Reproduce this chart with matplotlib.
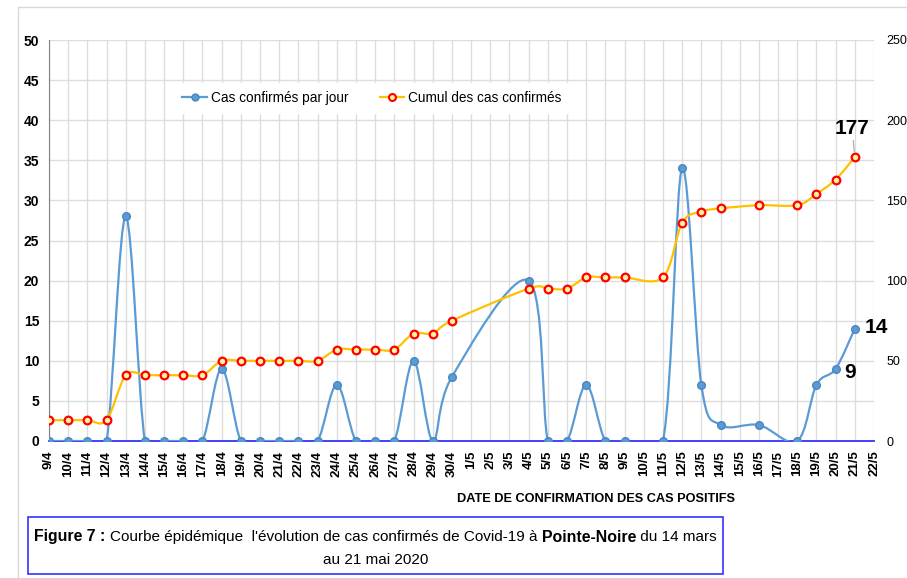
import numpy as np
import matplotlib
matplotlib.use("Agg")
import matplotlib.pyplot as plt
from matplotlib.path import Path
from matplotlib.patches import PathPatch, Rectangle
from matplotlib import font_manager

# polices : Arial Narrow -> Liberation Sans Narrow si dispo
noms = {f.name for f in font_manager.fontManager.ttflist}
narrow = 'Liberation Sans Narrow' if 'Liberation Sans Narrow' in noms else 'Liberation Sans'
plt.rcParams['font.family'] = [narrow, 'DejaVu Sans']

#------------------------------------------------
# donnees
dates = ['9/4', '10/4', '11/4', '12/4', '13/4', '14/4', '15/4', '16/4', '17/4', '18/4',
         '19/4', '20/4', '21/4', '22/4', '23/4', '24/4', '25/4', '26/4', '27/4', '28/4',
         '29/4', '30/4', '1/5', '2/5', '3/5', '4/5', '5/5', '6/5', '7/5', '8/5',
         '9/5', '10/5', '11/5', '12/5', '13/5', '14/5', '15/5', '16/5', '17/5', '18/5',
         '19/5', '20/5', '21/5', '22/5']
# jours avec une valeur (les autres n'ont pas de point)
jours = ['9/4', '10/4', '11/4', '12/4', '13/4', '14/4', '15/4', '16/4', '17/4', '18/4',
         '19/4', '20/4', '21/4', '22/4', '23/4', '24/4', '25/4', '26/4', '27/4', '28/4',
         '29/4', '30/4', '4/5', '5/5', '6/5', '7/5', '8/5', '9/5', '11/5', '12/5',
         '13/5', '14/5', '16/5', '18/5', '19/5', '20/5', '21/5']
cas_jour = [0, 0, 0, 0, 28, 0, 0, 0, 0, 9,
            0, 0, 0, 0, 0, 7, 0, 0, 0, 10,
            0, 8, 20, 0, 0, 7, 0, 0, 0, 34,
            7, 2, 2, 0, 7, 9, 14]
cumul = [13, 13, 13, 13, 41, 41, 41, 41, 41, 50,
         50, 50, 50, 50, 50, 57, 57, 57, 57, 67,
         67, 75, 95, 95, 95, 102, 102, 102, 102, 136,
         143, 145, 147, 147, 154, 163, 177]

titre_x = "DATE DE CONFIRMATION DES CAS POSITIFS"
legende = ["Cas confirmés par jour", "Cumul des cas confirmés"]

#------------------------------------------------
def courbe_lisse(x, y):
    # lissage facon Excel (bezier type Catmull-Rom)
    p = np.column_stack([x, y]).astype(float)
    n = len(p)
    verts = [p[0]]
    codes = [Path.MOVETO]
    for i in range(n - 1):
        p0 = p[i - 1] if i > 0 else p[i]
        p3 = p[i + 2] if i + 2 < n else p[i + 1]
        c1 = p[i] + (p[i + 1] - p0) / 6.0
        c2 = p[i + 1] - (p3 - p[i]) / 6.0
        verts += [c1, c2, p[i + 1]]
        codes += [Path.CURVE4] * 3
    return Path(verts, codes)

W, H = 907, 578
fig = plt.figure(figsize=(W / 100, H / 100), dpi=100)
fig.patches.append(Rectangle((18 / W, -0.1), 1.2, 1 - 7 / H + 0.1, transform=fig.transFigure,
                             fill=False, edgecolor='#d9d9d9', lw=1))

ax = fig.add_axes([49 / W, 1 - 441 / H, (874 - 49) / W, (441 - 40) / H])
ax2 = ax.twinx()

xj = [dates.index(d) for d in jours]

bleu = '#5b9bd5'
ax.add_patch(PathPatch(courbe_lisse(xj, cas_jour), fill=False, edgecolor=bleu, lw=1.6, zorder=3))
ax.plot(xj, cas_jour, 'o', color=bleu, mec='#4a86c0', ms=5.5, zorder=4)
ax.plot([], [], '-o', color=bleu, mec='#4a86c0', ms=5, lw=1.6, label=legende[0])

ax2.add_patch(PathPatch(courbe_lisse(xj, cumul), fill=False, edgecolor='#ffc000', lw=1.6, zorder=3))
ax2.plot(xj, cumul, 'o', mfc='#fff3a0', mec='#ff0000', mew=1.6, ms=5.5, zorder=4)

ax.set_xlim(0, len(dates) - 1)
ax.set_ylim(0, 50)
ax2.set_ylim(0, 250)
ax.set_xticks(range(len(dates)))
ax.set_xticklabels(dates, rotation=90, fontsize=9.5, fontweight='bold')
ax.set_yticks(range(0, 51, 5))
ax.set_yticklabels([str(v) for v in range(0, 51, 5)], fontsize=10, fontweight='bold')
ax2.set_yticks(range(0, 251, 50))
ax2.set_yticklabels([str(v) for v in range(0, 251, 50)], fontsize=9)
ax.tick_params(length=0, pad=7)
ax2.tick_params(length=0, pad=9)
ax.grid(True, color='#dddddd', lw=1)
ax.set_axisbelow(True)
for s in ['top', 'right']:
    ax.spines[s].set_visible(False)
for s in ax2.spines.values():
    s.set_visible(False)
ax.spines['left'].set_color('#808080')
ax.spines['bottom'].set_color('#3333ff')
ax.spines['bottom'].set_linewidth(1.3)

# legende
h1, l1 = ax.get_legend_handles_labels()
h2, = ax2.plot([], [], '-o', color='#ffc000', mfc='#fff3a0', mec='#ff0000', mew=1.5, ms=5, lw=1.6)
leg = ax2.legend(h1 + [h2], legende, loc='center', bbox_to_anchor=(372 / W, 1 - 98 / H),
                 bbox_transform=fig.transFigure, ncol=2, frameon=True, fancybox=False,
                 edgecolor='white', facecolor='white', framealpha=1, fontsize=9.8,
                 handlelength=1.8, handletextpad=0.3, columnspacing=2.3, borderpad=0.6)

# etiquettes de valeurs
i_fin = len(jours) - 1
ax2.annotate(str(cumul[i_fin]), xy=(xj[i_fin], cumul[i_fin]), xytext=(-2, 14),
             textcoords='offset points', ha='center', va='bottom', fontsize=15, fontweight='bold',
             arrowprops=dict(arrowstyle='-', color='#a6a6a6', lw=0.8, shrinkA=0, shrinkB=4))
ax.annotate(str(cas_jour[i_fin]), xy=(xj[i_fin], cas_jour[i_fin]), xytext=(7, 1),
            textcoords='offset points', ha='left', va='center', fontsize=15, fontweight='bold')
ax.annotate(str(cas_jour[i_fin - 1]), xy=(xj[i_fin - 1], cas_jour[i_fin - 1]), xytext=(6, -3),
            textcoords='offset points', ha='left', va='center', fontsize=15, fontweight='bold')

fig.text(596 / W, 1 - 499 / H, titre_x, ha='center', va='center', fontsize=9.2, fontweight='bold')

# legende de la figure (encadre bleu)
fig.patches.append(Rectangle((28 / W, 1 - 574 / H), (723 - 28) / W, (574 - 517) / H,
                             transform=fig.transFigure, fill=False, edgecolor='#3333ff', lw=1.2))
morceaux = [("Figure 7 : ", 'bold'),
            ("Courbe épidémique  l'évolution de cas confirmés de Covid-19 à ", 'normal'),
            ("Pointe-Noire", 'bold'),
            (" du 14 mars", 'normal')]
fig.canvas.draw()
rend = fig.canvas.get_renderer()
textes = []
for txt, w in morceaux:
    t = fig.text(0, 1 - 537 / H, txt, ha='left', va='center', fontsize=11.4 if w == 'bold' else 11,
                 fontweight=w)
    textes.append(t)
larg = [t.get_window_extent(rend).width for t in textes]
x0 = (375.5 - sum(larg) / 2)
for t, l in zip(textes, larg):
    t.set_x(x0 / W)
    x0 += l
fig.text(375.5 / W, 1 - 560 / H, "au 21 mai 2020", ha='center', va='center', fontsize=11)

plt.savefig('out.png', dpi=100)
